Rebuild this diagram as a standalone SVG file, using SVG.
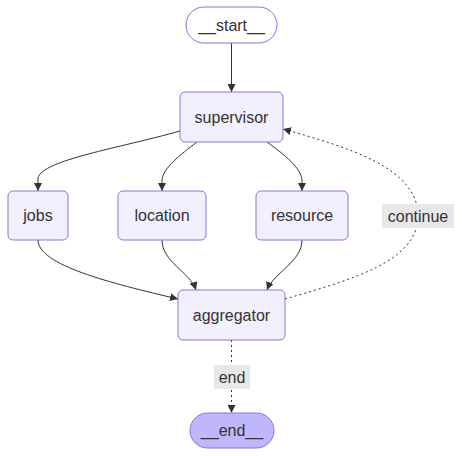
<svg xmlns="http://www.w3.org/2000/svg" width="462" height="456" viewBox="0 0 462 456">
<style>
.node rect{fill:#f2f0ff;stroke:#9370db;stroke-width:1}
.first rect{fill:#ffffff;fill-opacity:0}
.last rect{fill:#bfb6fc}
text{font-family:"Liberation Sans",Arial,sans-serif;font-size:16px;fill:#333;text-anchor:middle;dominant-baseline:central}
.edge{fill:none;stroke:#333;stroke-width:1}
.dot{stroke-dasharray:2 3}
.lbl{fill:#e8e8e8}
</style>
<defs>
<marker id="arr" viewBox="0 0 10 10" refX="10" refY="5" markerWidth="8" markerHeight="8" markerUnits="userSpaceOnUse" orient="auto">
<path d="M0,0 L10,5 L0,10 z" fill="#333"/>
</marker>
</defs>
<g id="connectors">
<path class="edge" d="M231.5,43 L231.5,92" marker-end="url(#arr)"/>
<path class="edge" d="M180,131 C120,148 42,160 38,178 L38,191" marker-end="url(#arr)"/>
<path class="edge" d="M197,142 C180,155 163,168 162,180 L162,191" marker-end="url(#arr)"/>
<path class="edge" d="M267,142 C285,155 301,168 302,180 L302,191" marker-end="url(#arr)"/>
<path class="edge" d="M38,240 C38,265 110,283 178,299" marker-end="url(#arr)"/>
<path class="edge" d="M162,240 C162,262 190,272 196,290" marker-end="url(#arr)"/>
<path class="edge" d="M302,240 C302,262 274,272 267,290" marker-end="url(#arr)"/>
<path class="edge dot" d="M285,299 C350,280 418,262 418,216 C418,168 350,148 283,129" marker-end="url(#arr)"/>
<path class="edge dot" d="M231.5,340 L231.5,413" marker-end="url(#arr)"/>
<g id="label-continue"><rect class="lbl" x="382" y="204" width="72" height="24"/><text x="418" y="216">continue</text></g>
<g id="label-end"><rect class="lbl" x="214" y="365" width="36" height="24"/><text x="232" y="377">end</text></g>
</g>
<g id="start" class="node first"><rect x="186" y="7" width="91" height="36" rx="18"/><text x="231.5" y="25">__start__</text></g>
<g id="supervisor" class="node"><rect x="180" y="92" width="103" height="50" rx="5"/><text x="231.5" y="117">supervisor</text></g>
<g id="jobs" class="node"><rect x="8" y="191" width="60" height="49" rx="5"/><text x="38" y="215.5">jobs</text></g>
<g id="location" class="node"><rect x="118" y="191" width="88" height="49" rx="5"/><text x="162" y="215.5">location</text></g>
<g id="resource" class="node"><rect x="256" y="191" width="92" height="49" rx="5"/><text x="302" y="215.5">resource</text></g>
<g id="aggregator" class="node"><rect x="178" y="290" width="107" height="50" rx="5"/><text x="231.5" y="315">aggregator</text></g>
<g id="end" class="node last"><rect x="190" y="413" width="84" height="35" rx="17.5"/><text x="232" y="430.5">__end__</text></g>
</svg>
